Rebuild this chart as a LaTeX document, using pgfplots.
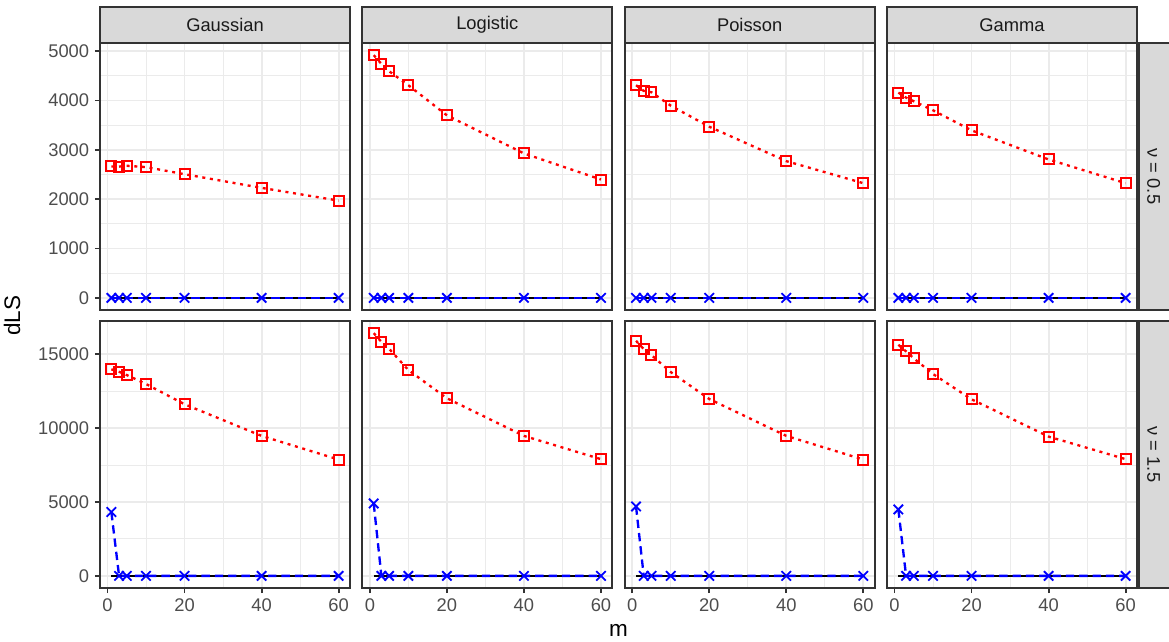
\documentclass[border=0pt]{standalone}
\usepackage{pgfplots}
\pgfplotsset{compat=1.18}
\usepgfplotslibrary{groupplots}
\usetikzlibrary{calc}
\usepackage{fontspec}
\setmainfont{Liberation Sans}
\definecolor{gridc}{HTML}{EBEBEB}
\definecolor{bordc}{HTML}{333333}
\definecolor{tickc}{HTML}{4D4D4D}
\definecolor{stripc}{HTML}{D9D9D9}
\definecolor{striptext}{HTML}{1A1A1A}
\pgfplotsset{
  zeroline/.style={black, line width=1.4pt},
  blueline/.style={blue, line width=1.4pt, dash pattern=on 5pt off 3pt, mark=x, mark size=4pt, mark options={solid, draw=blue, line width=1.1pt}},
  redline/.style={red, line width=1.4pt, dash pattern=on 1.8pt off 2.8pt, mark=square, mark size=3pt, mark options={solid, draw=red, fill=none, line width=1.2pt}},
  toprow/.style={ymin=-246, ymax=5165, ytick={0,1000,2000,3000,4000,5000}, minor ytick={500,1500,2500,3500,4500}, xticklabels={}, xtick style={draw=none}},
  botrow/.style={ymin=-822, ymax=17261, ytick={0,5000,10000,15000}, minor ytick={2500,7500,12500}},
  inner/.style={yticklabels={}, ytick style={draw=none}},
}
\begin{document}
\begin{tikzpicture}[font=\fontsize{11}{13}\selectfont]
\begin{groupplot}[
  group style={group size=4 by 2, horizontal sep=7.4pt, vertical sep=6.6pt},
  scale only axis, width=150pt, height=160.2pt,
  xmin=-1.95, xmax=62.95,
  xtick={0,20,40,60}, minor xtick={10,30,50},
  scaled ticks=false,
  grid=both,
  major grid style={gridc, line width=1.1pt},
  minor grid style={gridc, line width=0.55pt},
  axis line style={bordc, line width=1.1pt},
  tick align=outside, tick pos=left,
  major tick length=3pt, minor tick length=0pt,
  tick style={bordc, line width=1.1pt},
  ticklabel style={tickc, font=\fontsize{11}{13}\selectfont},
  /pgf/number format/assume math mode=true,
  yticklabel style={/pgf/number format/1000 sep={}},
]
% ---- top row (nu = 0.5)
\nextgroupplot[toprow]
\addplot[zeroline] coordinates {(1,0)(3,0)(5,0)(10,0)(20,0)(40,0)(60,0)};
\addplot[blueline] coordinates {(1,0)(3,0)(5,0)(10,0)(20,0)(40,0)(60,0)};
\addplot[redline] coordinates {(1,2663)(3,2660)(5,2677)(10,2650)(20,2506)(40,2229)(60,1971)};
\nextgroupplot[toprow, inner]
\addplot[zeroline] coordinates {(1,0)(3,0)(5,0)(10,0)(20,0)(40,0)(60,0)};
\addplot[blueline] coordinates {(1,0)(3,0)(5,0)(10,0)(20,0)(40,0)(60,0)};
\addplot[redline] coordinates {(1,4919)(3,4742)(5,4593)(10,4309)(20,3699)(40,2927)(60,2398)};
\nextgroupplot[toprow, inner]
\addplot[zeroline] coordinates {(1,0)(3,0)(5,0)(10,0)(20,0)(40,0)(60,0)};
\addplot[blueline] coordinates {(1,0)(3,0)(5,0)(10,0)(20,0)(40,0)(60,0)};
\addplot[redline] coordinates {(1,4309)(3,4194)(5,4167)(10,3896)(20,3469)(40,2771)(60,2324)};
\nextgroupplot[toprow, inner]
\addplot[zeroline] coordinates {(1,0)(3,0)(5,0)(10,0)(20,0)(40,0)(60,0)};
\addplot[blueline] coordinates {(1,0)(3,0)(5,0)(10,0)(20,0)(40,0)(60,0)};
\addplot[redline] coordinates {(1,4160)(3,4058)(5,3984)(10,3801)(20,3394)(40,2805)(60,2324)};
% ---- bottom row (nu = 1.5)
\nextgroupplot[botrow]
\addplot[zeroline] coordinates {(1,0)(3,0)(5,0)(10,0)(20,0)(40,0)(60,0)};
\addplot[blueline] coordinates {(1,4324)(3,0)(5,0)(10,0)(20,0)(40,0)(60,0)};
\addplot[redline] coordinates {(1,13986)(3,13824)(5,13601)(10,12993)(20,11622)(40,9480)(60,7878)};
\nextgroupplot[botrow, inner]
\addplot[zeroline] coordinates {(1,0)(3,0)(5,0)(10,0)(20,0)(40,0)(60,0)};
\addplot[blueline] coordinates {(1,4905)(3,0)(5,0)(10,0)(20,0)(40,0)(60,0)};
\addplot[redline] coordinates {(1,16439)(3,15851)(5,15378)(10,13939)(20,12027)(40,9480)(60,7905)};
\nextgroupplot[botrow, inner]
\addplot[zeroline] coordinates {(1,0)(3,0)(5,0)(10,0)(20,0)(40,0)(60,0)};
\addplot[blueline] coordinates {(1,4700)(3,0)(5,0)(10,0)(20,0)(40,0)(60,0)};
\addplot[redline] coordinates {(1,15919)(3,15358)(5,14953)(10,13804)(20,11980)(40,9480)(60,7878)};
\nextgroupplot[botrow, inner]
\addplot[zeroline] coordinates {(1,0)(3,0)(5,0)(10,0)(20,0)(40,0)(60,0)};
\addplot[blueline] coordinates {(1,4500)(3,0)(5,0)(10,0)(20,0)(40,0)(60,0)};
\addplot[redline] coordinates {(1,15649)(3,15203)(5,14730)(10,13669)(20,11959)(40,9432)(60,7905)};
\end{groupplot}
% top strips
\foreach \c/\name in {1/Gaussian,2/Logistic,3/Poisson,4/Gamma}{
  \draw[fill=stripc, draw=bordc, line width=1.1pt] (group c\c r1.north west) rectangle ([yshift=21.6pt]group c\c r1.north east);
  \node[striptext] at ([yshift=10.8pt]group c\c r1.north) {\name};
}
% right strips
\foreach \r/\lab in {1/0.5,2/1.5}{
  \fill[stripc] ([xshift=1.2pt]group c4r\r.south east) rectangle ([xshift=19.2pt]group c4r\r.north east);
  \draw[bordc, line width=1.1pt] ([xshift=19.8pt]group c4r\r.south east) -- ([xshift=1.2pt]group c4r\r.south east) -- ([xshift=1.2pt]group c4r\r.north east) -- ([xshift=19.8pt]group c4r\r.north east);
  \node[striptext, rotate=-90] at ($(group c4r\r.east)+(10pt,0)$) {ν = \lab};
}
% axis titles
\node[rotate=90, font=\fontsize{13.5}{16}\selectfont] at ($(group c1r1.north west)!0.5!(group c1r2.south west)+(-52.8pt,0)$) {dLS};
\node[font=\fontsize{13.5}{16}\selectfont] at ($(group c1r2.south west)!0.5!(group c4r2.south east)+(0,-25.2pt)$) {m};
\pgfresetboundingbox
\path[use as bounding box] ($(group c1r2.south west)+(-60pt,-32.4pt)$) rectangle ($(group c4r1.north east)+(19.2pt,25.8pt)$);
\end{tikzpicture}
\end{document}
